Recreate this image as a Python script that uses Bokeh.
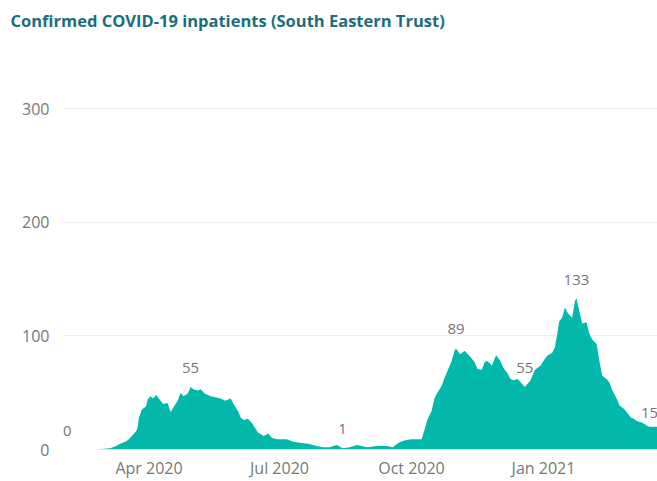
import pandas as pd
from bokeh.plotting import figure
from bokeh.models import Range1d, FixedTicker, DatetimeTickFormatter
from bokeh.core.properties import value
from bokeh.embed import file_html
from bokeh.resources import INLINE

# ---- data ----
dates = [
    "2020-02-24", "2020-03-05", "2020-03-09", "2020-03-12", "2020-03-16", "2020-03-18",
    "2020-03-20", "2020-03-23", "2020-03-24", "2020-03-25", "2020-03-27", "2020-03-30",
    "2020-03-31", "2020-04-02", "2020-04-04", "2020-04-06", "2020-04-09", "2020-04-11",
    "2020-04-14", "2020-04-16", "2020-04-18", "2020-04-21", "2020-04-23", "2020-04-25",
    "2020-04-28", "2020-04-30", "2020-05-02", "2020-05-05", "2020-05-07", "2020-05-10",
    "2020-05-14", "2020-05-17", "2020-05-21", "2020-05-24", "2020-05-28", "2020-05-30",
    "2020-06-02", "2020-06-04", "2020-06-06", "2020-06-09", "2020-06-12", "2020-06-14",
    "2020-06-16", "2020-06-20", "2020-06-23", "2020-06-26", "2020-06-30", "2020-07-06",
    "2020-07-10", "2020-07-15", "2020-07-21", "2020-07-27", "2020-07-31", "2020-08-05",
    "2020-08-10", "2020-08-14", "2020-08-19", "2020-08-24", "2020-08-31", "2020-09-07",
    "2020-09-14", "2020-09-18", "2020-09-22", "2020-09-26", "2020-10-01", "2020-10-06",
    "2020-10-08", "2020-10-10", "2020-10-12", "2020-10-15", "2020-10-17", "2020-10-19",
    "2020-10-22", "2020-10-24", "2020-10-26", "2020-10-29", "2020-10-31", "2020-11-01",
    "2020-11-04", "2020-11-07", "2020-11-10", "2020-11-14", "2020-11-16", "2020-11-19",
    "2020-11-21", "2020-11-23", "2020-11-26", "2020-11-29", "2020-12-02", "2020-12-04",
    "2020-12-07", "2020-12-09", "2020-12-11", "2020-12-14", "2020-12-17", "2020-12-19",
    "2020-12-23", "2020-12-26", "2020-12-30", "2021-01-02", "2021-01-04", "2021-01-07",
    "2021-01-09", "2021-01-11", "2021-01-12", "2021-01-14", "2021-01-16", "2021-01-18",
    "2021-01-21", "2021-01-23", "2021-01-24", "2021-01-26", "2021-01-28", "2021-01-31",
    "2021-02-02", "2021-02-04", "2021-02-07", "2021-02-09", "2021-02-11", "2021-02-14",
    "2021-02-16", "2021-02-18", "2021-02-21", "2021-02-23", "2021-02-26", "2021-02-28",
    "2021-03-03", "2021-03-05", "2021-03-07", "2021-03-10", "2021-03-12", "2021-03-14",
    "2021-03-16", "2021-03-18", "2021-03-21", "2021-03-24",
]
inpatients = [
    0, 1, 3, 5, 7, 9,
    12, 16, 19, 28, 35, 38,
    44, 47, 45, 48, 43, 40,
    41, 33, 37, 43, 50, 47,
    49, 55, 53, 52, 53, 49,
    47, 46, 45, 43, 45, 40,
    34, 28, 26, 27, 23, 19,
    15, 12, 14, 10, 9, 9,
    7, 6, 5, 3, 2, 2,
    4, 1, 2, 4, 2, 3,
    3, 2, 6, 8, 9, 9,
    9, 17, 26, 34, 45, 50,
    56, 63, 69, 78, 87, 89,
    84, 87, 83, 77, 71, 70,
    77, 78, 74, 83, 78, 72,
    67, 62, 61, 62, 58, 55,
    61, 70, 74, 80, 83, 85,
    90, 105, 113, 116, 125, 120,
    116, 131, 133, 122, 111, 112,
    102, 97, 93, 78, 65, 62,
    59, 52, 45, 39, 36, 33,
    28, 27, 25, 24, 23, 21,
    20, 20, 20, 19,
]
label_dates = ["2020-02-04", "2020-04-30", "2020-08-14", "2020-11-01",
               "2020-12-19", "2021-01-24", "2021-03-16"]
label_values = [0, 55, 1, 89, 55, 133, 15]
tick_dates = ["2020-04-01", "2020-07-01", "2020-10-01", "2021-01-01"]
tick_labels = ["Apr 2020", "Jul 2020", "Oct 2020", "Jan 2021"]
y_ticks = [0, 100, 200, 300]

TEAL = "#01B8AA"
AXIS_GREY = "#777777"
FONT = "Open Sans"

x = pd.to_datetime(dates)
lx = pd.to_datetime(label_dates)
tick_ms = [int(pd.Timestamp(d).value // 10**6) for d in tick_dates]

p = figure(
    width=657, height=481,
    x_axis_type="datetime",
    output_backend="svg", toolbar_location=None,
    x_range=Range1d(pd.Timestamp("2020-01-31 17:00"), pd.Timestamp("2021-03-21 12:00")),
    y_range=Range1d(0, 362.9),
    min_border_left=62, min_border_right=0, min_border_top=32, min_border_bottom=32,
)
p.outline_line_color = None
p.background_fill_color = "white"
p.border_fill_color = "white"

p.title.text = "Confirmed COVID-19 inpatients (South Eastern Trust)"
p.title.text_font = FONT
p.title.text_font_size = "16.5px"
p.title.text_font_style = "bold"
p.title.text_color = "#1a6e7c"
p.title.align = "left"
p.title.offset = -52
p.title.standoff = 12

p.varea(x=x, y1=0, y2=inpatients, fill_color=TEAL, fill_alpha=1.0)

p.text(x=lx, y=label_values, text=[str(v) for v in label_values],
       text_font=value(FONT), text_font_size="15px", text_color=AXIS_GREY,
       text_align="center", text_baseline="middle", y_offset=-19)

# axes
p.xaxis.ticker = FixedTicker(ticks=tick_ms)
p.xaxis.formatter = DatetimeTickFormatter(months="%b %Y", days="%b %Y", years="%b %Y")
p.xaxis.major_label_overrides = dict(zip(tick_ms, tick_labels))
p.yaxis.ticker = FixedTicker(ticks=y_ticks)
for ax in (p.xaxis[0], p.yaxis[0]):
    ax.axis_line_color = None
    ax.major_tick_line_color = None
    ax.minor_tick_line_color = None
    ax.major_tick_out = 0
    ax.major_tick_in = 0
    ax.minor_tick_out = 0
    ax.minor_tick_in = 0
    ax.major_label_text_font = FONT
    ax.major_label_text_font_size = "16px"
    ax.major_label_text_color = AXIS_GREY
p.yaxis.major_label_standoff = 13
p.xaxis.major_label_standoff = 7

p.xgrid.visible = False
p.ygrid.ticker = FixedTicker(ticks=y_ticks)
p.ygrid.grid_line_color = "#eeeeee"
p.ygrid.grid_line_width = 1

open("out.html", "w").write(file_html(p, INLINE))
